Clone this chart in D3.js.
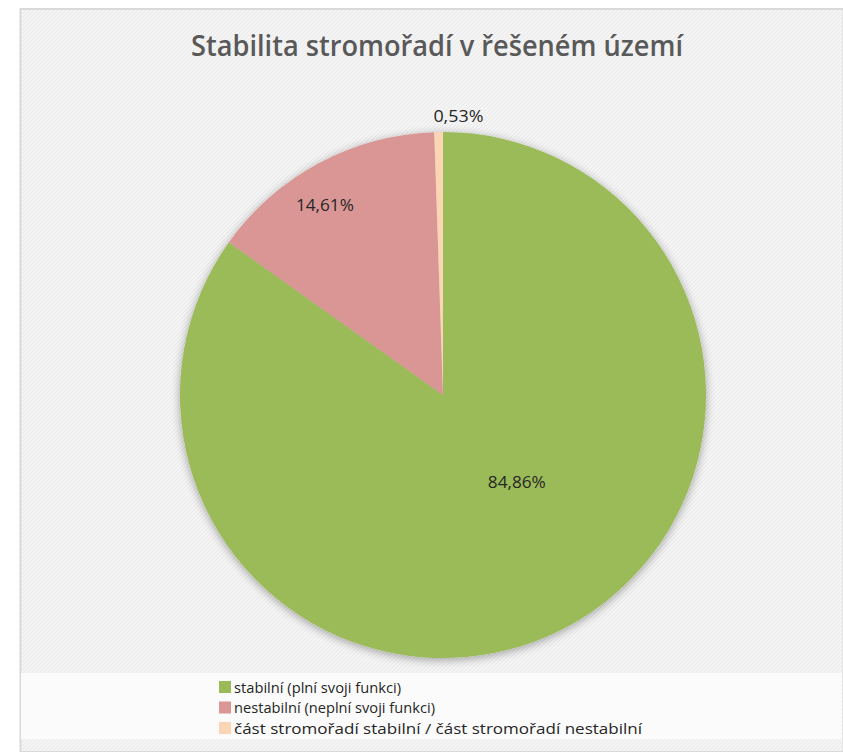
<!DOCTYPE html>
<html><head><meta charset="utf-8">
<script src="https://cdn.jsdelivr.net/npm/d3@7/dist/d3.min.js"></script>
<style>body{margin:0;background:#fff;}svg{display:block;}</style>
</head><body>
<svg id="chart" width="843" height="752"></svg>
<script>
const title = "Stabilita stromořadí v řešeném území";
const categories = ["stabilní (plní svoji funkci)", "nestabilní (neplní svoji funkci)", "část stromořadí stabilní / část stromořadí nestabilní"];
const values = [84.86, 14.61, 0.53];
const labels = ["84,86%", "14,61%", "0,53%"];
const colors = ["#9bbb59", "#d99694", "#fcd5b5"];

const svg = d3.select("#chart");
const W = 843, H = 752;
const defs = svg.append("defs");
const pat = defs.append("pattern").attr("id","tex").attr("patternUnits","userSpaceOnUse")
  .attr("width",4).attr("height",4);
pat.append("rect").attr("width",4).attr("height",4).attr("fill","#f4f4f4");
pat.append("path").attr("d","M0,4 L4,0 M-1,1 L1,-1 M3,5 L5,3").attr("stroke","#e9e9e9").attr("stroke-width",1);
const flt = defs.append("filter").attr("id","sh").attr("x","-20%").attr("y","-20%").attr("width","140%").attr("height","140%");
flt.append("feGaussianBlur").attr("in","SourceAlpha").attr("stdDeviation",5).attr("result","b");
flt.append("feOffset").attr("in","b").attr("dx",0).attr("dy",2).attr("result","o");
flt.append("feComponentTransfer").attr("in","o").attr("result","o2").append("feFuncA").attr("type","linear").attr("slope",0.35);
const m = flt.append("feMerge"); m.append("feMergeNode").attr("in","o2"); m.append("feMergeNode").attr("in","SourceGraphic");

// frame
svg.append("rect").attr("x",20.5).attr("y",9).attr("width",W-20).attr("height",H-9)
  .attr("fill","url(#tex)").attr("stroke","#d9d9d9").attr("stroke-width",2);

// title
svg.append("text").attr("x",437).attr("y",56).attr("text-anchor","middle")
  .attr("font-family","Open Sans, sans-serif").attr("font-weight",600).attr("font-size",29).attr("fill","#595959")
  .attr("textLength",492).attr("lengthAdjust","spacingAndGlyphs").text(title);

// pie
const cx = 443, cy = 395, R = 263;
const pie = d3.pie().sort(null).value(d=>d)(values);
const arc = d3.arc().innerRadius(0).outerRadius(R);
const g = svg.append("g").attr("transform",`translate(${cx},${cy})`);
const pg = g.append("g").attr("filter","url(#sh)");
pg.selectAll("path").data(pie).join("path").attr("d",arc).attr("fill",(d,i)=>colors[i]);

const fr = [0.44, 0.845, 1.055];
const da = [-12.4, -3.9, 0].map(v=>v*Math.PI/180);
const dx = [0, 0, 20];
const ang = (d,i)=>(d.startAngle+d.endAngle)/2 + da[i];
g.selectAll("text.lbl").data(pie).join("text").attr("class","lbl")
  .attr("x",(d,i)=>Math.sin(ang(d,i))*R*fr[i]+dx[i])
  .attr("y",(d,i)=>-Math.cos(ang(d,i))*R*fr[i])
  .attr("text-anchor","middle").attr("dominant-baseline","middle")
  .attr("font-family","Open Sans, sans-serif").attr("font-size",16).attr("fill","#262626")
  .attr("textLength",(d,i)=>i===2?50:58).attr("lengthAdjust","spacingAndGlyphs")
  .text((d,i)=>labels[i]);

// legend band
svg.append("rect").attr("x",21).attr("y",673).attr("width",W-22).attr("height",66).attr("fill","#fbfbfb");
const lg = svg.append("g").attr("transform","translate(219,677)");
const rows = lg.selectAll("g").data(categories).join("g").attr("transform",(d,i)=>`translate(0,${i*20.5})`);
rows.append("rect").attr("width",12).attr("height",12).attr("y",4).attr("fill",(d,i)=>colors[i]);
const tl = [167, 201, 408];
rows.append("text").attr("x",15).attr("y",15.5).attr("font-family","Open Sans, sans-serif")
  .attr("font-size",14.5).attr("fill","#262626")
  .attr("textLength",(d,i)=>tl[i]).attr("lengthAdjust","spacingAndGlyphs").text(d=>d);
</script>
</body></html>
